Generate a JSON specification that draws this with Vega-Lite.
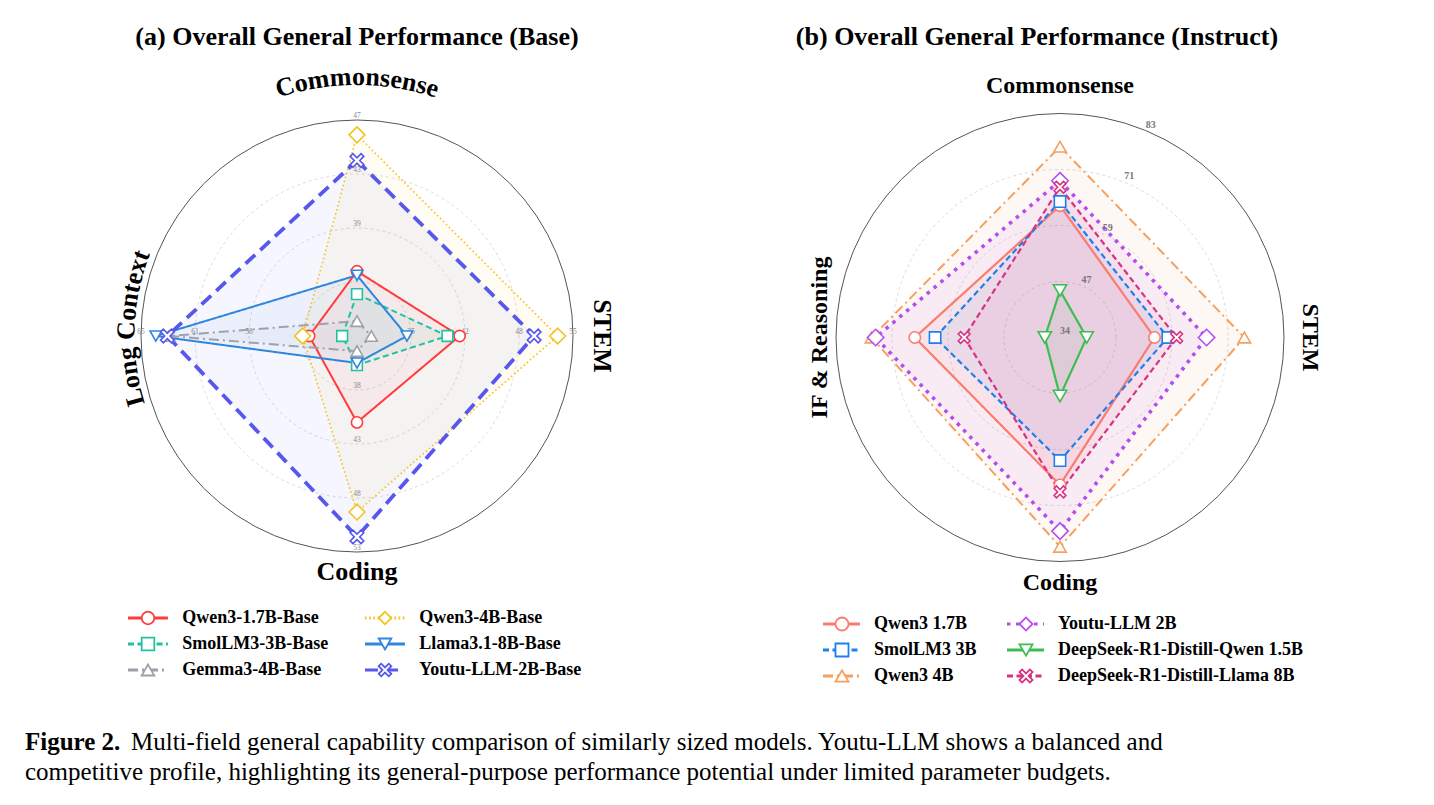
{
"$schema": "https://vega.github.io/schema/vega-lite/v6.json",
"background": "white",
"padding": {"left": 25, "top": 24, "right": 0, "bottom": 0},
"config": {"view": {"stroke": null}, "font": "Liberation Serif"},
"datasets": {
 "levels": [{"level": 0.25}, {"level": 0.5}, {"level": 0.75}, {"level": 1}],
 "dimsA": [
  {"dim": "Commonsense", "idx": 0, "min": 31, "max": 47},
  {"dim": "STEM", "idx": 1, "min": 28.33, "max": 55},
  {"dim": "Coding", "idx": 2, "min": 33, "max": 53},
  {"dim": "Long Context", "idx": 3, "min": 51.5, "max": 64.6}
 ],
 "dimsB": [
  {"dim": "Commonsense", "idx": 0, "min": 34.4, "max": 83},
  {"dim": "STEM", "idx": 1, "min": 34.4, "max": 83},
  {"dim": "Coding", "idx": 2, "min": 34.4, "max": 83},
  {"dim": "IF & Reasoning", "idx": 3, "min": 34.4, "max": 83}
 ],
 "ticksA": [
  {"dim": "Commonsense", "level": 0.5, "label": "39"},
  {"dim": "Commonsense", "level": 0.75, "label": "43"},
  {"dim": "Commonsense", "level": 1, "label": "47"},
  {"dim": "STEM", "level": 0.25, "label": "35"},
  {"dim": "STEM", "level": 0.5, "label": "42"},
  {"dim": "STEM", "level": 0.75, "label": "48"},
  {"dim": "STEM", "level": 1, "label": "55"},
  {"dim": "Coding", "level": 0.25, "label": "38"},
  {"dim": "Coding", "level": 0.5, "label": "43"},
  {"dim": "Coding", "level": 0.75, "label": "48"},
  {"dim": "Coding", "level": 1, "label": "53"},
  {"dim": "Long Context", "level": 0.5, "label": "58"},
  {"dim": "Long Context", "level": 0.75, "label": "61"},
  {"dim": "Long Context", "level": 1, "label": "65"}
 ],
 "ticksB": [
  {"level": 0, "label": "34"},
  {"level": 0.25, "label": "47"},
  {"level": 0.5, "label": "59"},
  {"level": 0.75, "label": "71"},
  {"level": 1, "label": "83"}
 ],
 "modelsA": [
  {"model": "Qwen3-1.7B-Base", "order": 0},
  {"model": "SmolLM3-3B-Base", "order": 1},
  {"model": "Gemma3-4B-Base", "order": 2},
  {"model": "Qwen3-4B-Base", "order": 3},
  {"model": "Llama3.1-8B-Base", "order": 4},
  {"model": "Youtu-LLM-2B-Base", "order": 5}
 ],
 "modelsB": [
  {"model": "Qwen3 1.7B", "order": 0},
  {"model": "SmolLM3 3B", "order": 1},
  {"model": "Qwen3 4B", "order": 2},
  {"model": "Youtu-LLM 2B", "order": 3},
  {"model": "DeepSeek-R1-Distill-Qwen 1.5B", "order": 4},
  {"model": "DeepSeek-R1-Distill-Llama 8B", "order": 5}
 ],
 "scoresA": [
  {"model": "Qwen3-1.7B-Base", "dim": "Commonsense", "score": 35.8},
  {"model": "Qwen3-1.7B-Base", "dim": "STEM", "score": 41.0},
  {"model": "Qwen3-1.7B-Base", "dim": "Coding", "score": 41.0},
  {"model": "Qwen3-1.7B-Base", "dim": "Long Context", "score": 54.4},
  {"model": "SmolLM3-3B-Base", "dim": "Commonsense", "score": 34.1},
  {"model": "SmolLM3-3B-Base", "dim": "STEM", "score": 39.5},
  {"model": "SmolLM3-3B-Base", "dim": "Coding", "score": 35.7},
  {"model": "SmolLM3-3B-Base", "dim": "Long Context", "score": 52.4},
  {"model": "Gemma3-4B-Base", "dim": "Commonsense", "score": 32.1},
  {"model": "Gemma3-4B-Base", "dim": "STEM", "score": 30.1},
  {"model": "Gemma3-4B-Base", "dim": "Coding", "score": 34.4},
  {"model": "Gemma3-4B-Base", "dim": "Long Context", "score": 62.9},
  {"model": "Qwen3-4B-Base", "dim": "Commonsense", "score": 45.9},
  {"model": "Qwen3-4B-Base", "dim": "STEM", "score": 53.1},
  {"model": "Qwen3-4B-Base", "dim": "Coding", "score": 49.3},
  {"model": "Qwen3-4B-Base", "dim": "Long Context", "score": 54.8},
  {"model": "Llama3.1-8B-Base", "dim": "Commonsense", "score": 35.5},
  {"model": "Llama3.1-8B-Base", "dim": "STEM", "score": 34.5},
  {"model": "Llama3.1-8B-Base", "dim": "Coding", "score": 35.5},
  {"model": "Llama3.1-8B-Base", "dim": "Long Context", "score": 63.7},
  {"model": "Youtu-LLM-2B-Base", "dim": "Commonsense", "score": 44.0},
  {"model": "Youtu-LLM-2B-Base", "dim": "STEM", "score": 50.2},
  {"model": "Youtu-LLM-2B-Base", "dim": "Coding", "score": 51.6},
  {"model": "Youtu-LLM-2B-Base", "dim": "Long Context", "score": 63.0}
 ],
 "scoresB": [
  {"model": "Qwen3 1.7B", "dim": "Commonsense", "score": 63.0},
  {"model": "Qwen3 1.7B", "dim": "STEM", "score": 54.9},
  {"model": "Qwen3 1.7B", "dim": "Coding", "score": 66.4},
  {"model": "Qwen3 1.7B", "dim": "IF & Reasoning", "score": 65.9},
  {"model": "SmolLM3 3B", "dim": "Commonsense", "score": 63.9},
  {"model": "SmolLM3 3B", "dim": "STEM", "score": 57.8},
  {"model": "SmolLM3 3B", "dim": "Coding", "score": 61.1},
  {"model": "SmolLM3 3B", "dim": "IF & Reasoning", "score": 61.5},
  {"model": "Qwen3 4B", "dim": "Commonsense", "score": 75.8},
  {"model": "Qwen3 4B", "dim": "STEM", "score": 74.4},
  {"model": "Qwen3 4B", "dim": "Coding", "score": 79.8},
  {"model": "Qwen3 4B", "dim": "IF & Reasoning", "score": 75.3},
  {"model": "Youtu-LLM 2B", "dim": "Commonsense", "score": 68.4},
  {"model": "Youtu-LLM 2B", "dim": "STEM", "score": 66.2},
  {"model": "Youtu-LLM 2B", "dim": "Coding", "score": 76.4},
  {"model": "Youtu-LLM 2B", "dim": "IF & Reasoning", "score": 74.4},
  {"model": "DeepSeek-R1-Distill-Qwen 1.5B", "dim": "Commonsense", "score": 44.6},
  {"model": "DeepSeek-R1-Distill-Qwen 1.5B", "dim": "STEM", "score": 40.2},
  {"model": "DeepSeek-R1-Distill-Qwen 1.5B", "dim": "Coding", "score": 47.1},
  {"model": "DeepSeek-R1-Distill-Qwen 1.5B", "dim": "IF & Reasoning", "score": 37.7},
  {"model": "DeepSeek-R1-Distill-Llama 8B", "dim": "Commonsense", "score": 67.0},
  {"model": "DeepSeek-R1-Distill-Llama 8B", "dim": "STEM", "score": 59.7},
  {"model": "DeepSeek-R1-Distill-Llama 8B", "dim": "Coding", "score": 67.9},
  {"model": "DeepSeek-R1-Distill-Llama 8B", "dim": "IF & Reasoning", "score": 55.2}
 ],
 "caption": [
  {"line": 0, "part": "bold", "text": "Figure 2."},
  {"line": 0, "part": "body0", "text": "Multi-field general capability comparison of similarly sized models.  Youtu-LLM shows a balanced and"},
  {"line": 1, "part": "body1", "text": "competitive profile, highlighting its general-purpose performance potential under limited parameter budgets."}
 ]
},
"vconcat": [
 {"hconcat": [
  {"vconcat": [
   {"title": {"text": "(a) Overall General Performance (Base)", "fontSize": 26, "fontWeight": "bold", "font": "Liberation Serif", "color": "#000000", "offset": 10, "anchor": "middle"},
    "width": 664, "height": 530,
    "resolve": {"scale": {"size": "independent"}},
    "layer": [
     {"data": {"name": "levels"}, "transform": [{"filter": "datum.level < 1"}],
      "mark": {"type": "point", "shape": "circle", "filled": false, "opacity": 1, "stroke": "#d2d2d2", "strokeWidth": 0.8, "strokeDash": [3, 3]},
      "encoding": {
       "x": {"datum": 0, "type": "quantitative", "scale": {"domain": [-1.537, 1.537], "nice": false, "zero": false}, "axis": null},
       "y": {"datum": 0, "type": "quantitative", "scale": {"domain": [-1.1759, 1.2778], "nice": false, "zero": false}, "axis": null},
       "size": {"field": "level", "type": "quantitative", "scale": {"type": "pow", "exponent": 2, "domain": [0, 1], "range": [0, 186624]}, "legend": null}}},
     {"data": {"name": "levels"}, "transform": [{"filter": "datum.level == 1"}],
      "mark": {"type": "point", "shape": "circle", "filled": false, "opacity": 1, "stroke": "#555555", "strokeWidth": 1},
      "encoding": {
       "x": {"datum": 0, "type": "quantitative", "axis": null},
       "y": {"datum": 0, "type": "quantitative", "axis": null},
       "size": {"field": "level", "type": "quantitative", "scale": {"type": "pow", "exponent": 2, "domain": [0, 1], "range": [0, 186624]}, "legend": null}}},
     {"data": {"name": "ticksA"},
      "transform": [
       {"lookup": "dim", "from": {"data": {"name": "dimsA"}, "key": "dim", "fields": ["idx"]}},
       {"calculate": "PI/2 - datum.idx*PI/2", "as": "th"},
       {"calculate": "datum.level*cos(datum.th)", "as": "px"},
       {"calculate": "datum.level*sin(datum.th)", "as": "py"}],
      "mark": {"type": "text", "align": "center", "baseline": "bottom", "fontSize": 7.5, "color": "#8a8a8a", "font": "Liberation Serif"},
      "encoding": {
       "x": {"field": "px", "type": "quantitative", "axis": null},
       "y": {"field": "py", "type": "quantitative", "axis": null},
       "text": {"field": "label"}}},
     {"data": {"name": "scoresA"},
      "transform": [
       {"lookup": "dim", "from": {"data": {"name": "dimsA"}, "key": "dim", "fields": ["idx", "min", "max"]}},
       {"calculate": "(datum.score - datum.min)/(datum.max - datum.min)", "as": "r"},
       {"calculate": "PI/2 - datum.idx*PI/2", "as": "th"},
       {"calculate": "datum.r*cos(datum.th)", "as": "px"},
       {"calculate": "datum.r*sin(datum.th)", "as": "py"}],
      "layer": [
       {"mark": {"type": "line", "interpolate": "linear-closed", "stroke": "transparent", "strokeWidth": 0, "fillOpacity": 0.05},
        "encoding": {
         "x": {"field": "px", "type": "quantitative", "axis": null},
         "y": {"field": "py", "type": "quantitative", "axis": null},
         "order": {"field": "idx"},
         "fill": {"field": "model", "type": "nominal", "scale": {"domain": ["Qwen3-1.7B-Base", "SmolLM3-3B-Base", "Gemma3-4B-Base", "Qwen3-4B-Base", "Llama3.1-8B-Base", "Youtu-LLM-2B-Base"], "range": ["#ff3b3b", "#1fc3a3", "#a0a0a8", "#f5c21b", "#2e86de", "#5757ee"]}, "legend": null}}},
       {"mark": {"type": "line", "interpolate": "linear-closed"},
        "encoding": {
         "x": {"field": "px", "type": "quantitative", "axis": null},
         "y": {"field": "py", "type": "quantitative", "axis": null},
         "order": {"field": "idx"},
         "stroke": {"field": "model", "type": "nominal", "scale": {"domain": ["Qwen3-1.7B-Base", "SmolLM3-3B-Base", "Gemma3-4B-Base", "Qwen3-4B-Base", "Llama3.1-8B-Base", "Youtu-LLM-2B-Base"], "range": ["#ff3b3b", "#1fc3a3", "#a0a0a8", "#f5c21b", "#2e86de", "#5757ee"]}, "legend": null},
         "strokeDash": {"field": "model", "type": "nominal", "scale": {"domain": ["Qwen3-1.7B-Base", "SmolLM3-3B-Base", "Gemma3-4B-Base", "Qwen3-4B-Base", "Llama3.1-8B-Base", "Youtu-LLM-2B-Base"], "range": [[1, 0], [6, 3.5], [10, 4, 2, 4], [1.6, 2.6], [1, 0], [13, 7]]}, "legend": null},
         "strokeWidth": {"field": "model", "type": "nominal", "scale": {"type": "ordinal", "domain": ["Qwen3-1.7B-Base", "SmolLM3-3B-Base", "Gemma3-4B-Base", "Qwen3-4B-Base", "Llama3.1-8B-Base", "Youtu-LLM-2B-Base"], "range": [2, 2, 2, 1.6, 2, 3.8]}, "legend": null}}},
       {"mark": {"type": "point", "filled": true, "fill": "white", "strokeWidth": 1.6, "opacity": 1},
        "encoding": {
         "x": {"field": "px", "type": "quantitative", "axis": null},
         "y": {"field": "py", "type": "quantitative", "axis": null},
         "stroke": {"field": "model", "type": "nominal", "legend": null},
         "shape": {"field": "model", "type": "nominal", "scale": {"domain": ["Qwen3-1.7B-Base", "SmolLM3-3B-Base", "Gemma3-4B-Base", "Qwen3-4B-Base", "Llama3.1-8B-Base", "Youtu-LLM-2B-Base"], "range": ["circle", "square", "triangle-up", "diamond", "triangle-down", "M-1,-0.6L-0.6,-1L0,-0.4L0.6,-1L1,-0.6L0.4,0L1,0.6L0.6,1L0,0.4L-0.6,1L-1,0.6L-0.4,0Z"]}, "legend": null},
         "size": {"field": "model", "type": "nominal", "scale": {"type": "ordinal", "domain": ["Qwen3-1.7B-Base", "SmolLM3-3B-Base", "Gemma3-4B-Base", "Qwen3-4B-Base", "Llama3.1-8B-Base", "Youtu-LLM-2B-Base"], "range": [125, 115, 145, 250, 135, 185]}, "legend": null}}}
      ]},
     {"data": {"name": "dimsA"},
      "transform": [
       {"filter": "datum.idx == 1 || datum.idx == 2"},
       {"calculate": "PI/2 - datum.idx*PI/2", "as": "th"},
       {"calculate": "datum.idx==1 ? 1.134 : 1.093", "as": "lr"},
       {"calculate": "datum.lr*cos(datum.th)", "as": "px"},
       {"calculate": "datum.lr*sin(datum.th)", "as": "py"},
       {"calculate": "datum.idx==1 ? 90 : 0", "as": "ang"}],
      "mark": {"type": "text", "fontSize": 26, "fontWeight": "bold", "font": "Liberation Serif", "align": "center", "baseline": "middle", "color": "#000000"},
      "encoding": {
       "x": {"field": "px", "type": "quantitative", "axis": null},
       "y": {"field": "py", "type": "quantitative", "axis": null},
       "text": {"field": "dim"},
       "angle": {"field": "ang", "type": "quantitative", "scale": null}}},
     {"data": {"name": "dimsA"},
      "transform": [
       {"filter": "datum.idx == 0 || datum.idx == 3"},
       {"calculate": "split(datum.dim, '')", "as": "chars"},
       {"flatten": ["chars"], "as": ["ch"]},
       {"window": [{"op": "row_number", "as": "i"}], "groupby": ["dim"]},
       {"calculate": "[0.667,0.5,0.556,0.5,0.25,0.722,0.333,0.444,0.5,0.833,0.389][indexof('Long Ctexms', datum.ch)]", "as": "w"},
       {"window": [{"op": "sum", "field": "w", "as": "cum"}], "groupby": ["dim"], "sort": [{"field": "i", "order": "ascending"}], "frame": [null, 0]},
       {"joinaggregate": [{"op": "sum", "field": "w", "as": "total"}], "groupby": ["dim"]},
       {"calculate": "datum.cum - datum.w/2 - datum.total/2", "as": "s"},
       {"calculate": "datum.idx == 0 ? 1.162 : 1.03", "as": "rb"},
       {"calculate": "datum.idx == 0 ? PI/2 : PI*178/180", "as": "th0"},
       {"calculate": "datum.th0 - datum.s*26/(datum.rb*216)", "as": "th"},
       {"calculate": "datum.rb*cos(datum.th)", "as": "px"},
       {"calculate": "datum.rb*sin(datum.th)", "as": "py"},
       {"calculate": "90 - datum.th*180/PI", "as": "ang"}],
      "mark": {"type": "text", "fontSize": 26, "fontWeight": "bold", "font": "Liberation Serif", "align": "center", "baseline": "alphabetic", "color": "#000000"},
      "encoding": {
       "x": {"field": "px", "type": "quantitative", "axis": null},
       "y": {"field": "py", "type": "quantitative", "axis": null},
       "text": {"field": "ch"},
       "angle": {"field": "ang", "type": "quantitative", "scale": null}}}
    ]},
   {"width": 664, "height": 78,
    "data": {"name": "modelsA"},
    "transform": [
     {"calculate": "floor(datum.order/3)", "as": "col"},
     {"calculate": "datum.order % 3 + 0.5", "as": "row"},
     {"calculate": "datum.col + 0.4346", "as": "x1"},
     {"calculate": "datum.col + 0.603", "as": "x2"},
     {"calculate": "datum.col + 0.519", "as": "xm"},
     {"calculate": "datum.col + 0.6636", "as": "xt"}],
    "layer": [
     {"mark": {"type": "rule"},
      "encoding": {
       "x": {"field": "x1", "type": "quantitative", "scale": {"domain": [0, 2.8017], "nice": false, "zero": false}, "axis": null},
       "x2": {"field": "x2"},
       "y": {"field": "row", "type": "quantitative", "scale": {"domain": [0, 3], "reverse": true, "nice": false}, "axis": null},
       "stroke": {"field": "model", "type": "nominal", "scale": {"domain": ["Qwen3-1.7B-Base", "SmolLM3-3B-Base", "Gemma3-4B-Base", "Qwen3-4B-Base", "Llama3.1-8B-Base", "Youtu-LLM-2B-Base"], "range": ["#ff3b3b", "#1fc3a3", "#a0a0a8", "#f5c21b", "#2e86de", "#5757ee"]}, "legend": null},
       "strokeDash": {"field": "model", "type": "nominal", "scale": {"domain": ["Qwen3-1.7B-Base", "SmolLM3-3B-Base", "Gemma3-4B-Base", "Qwen3-4B-Base", "Llama3.1-8B-Base", "Youtu-LLM-2B-Base"], "range": [[1, 0], [6, 3.5], [10, 4, 2, 4], [2.5, 4], [1, 0], [13, 7]]}, "legend": null},
       "strokeWidth": {"value": 2.8}}},
     {"mark": {"type": "point", "filled": true, "fill": "white", "strokeWidth": 1.8, "opacity": 1},
      "encoding": {
       "x": {"field": "xm", "type": "quantitative", "axis": null},
       "y": {"field": "row", "type": "quantitative", "axis": null},
       "stroke": {"field": "model", "type": "nominal", "legend": null},
       "shape": {"field": "model", "type": "nominal", "scale": {"domain": ["Qwen3-1.7B-Base", "SmolLM3-3B-Base", "Gemma3-4B-Base", "Qwen3-4B-Base", "Llama3.1-8B-Base", "Youtu-LLM-2B-Base"], "range": ["circle", "square", "triangle-up", "diamond", "triangle-down", "M-1,-0.6L-0.6,-1L0,-0.4L0.6,-1L1,-0.6L0.4,0L1,0.6L0.6,1L0,0.4L-0.6,1L-1,0.6L-0.4,0Z"]}, "legend": null},
       "size": {"value": 160}}},
     {"mark": {"type": "text", "align": "left", "baseline": "middle", "fontSize": 18, "fontWeight": "bold", "font": "Liberation Serif", "color": "#000000"},
      "encoding": {
       "x": {"field": "xt", "type": "quantitative", "axis": null},
       "y": {"field": "row", "type": "quantitative", "axis": null},
       "text": {"field": "model"}}}
    ]}
  ], "spacing": 15},
  {"vconcat": [
   {"title": {"text": "(b) Overall General Performance (Instruct)", "fontSize": 26, "fontWeight": "bold", "font": "Liberation Serif", "color": "#000000", "offset": 10, "anchor": "middle", "dx": -23},
    "width": 720, "height": 530,
    "resolve": {"scale": {"size": "independent"}},
    "layer": [
     {"data": {"name": "levels"}, "transform": [{"filter": "datum.level < 1"}],
      "mark": {"type": "point", "shape": "circle", "filled": false, "opacity": 1, "stroke": "#d2d2d2", "strokeWidth": 0.8, "strokeDash": [3, 3]},
      "encoding": {
       "x": {"datum": 0, "type": "quantitative", "scale": {"domain": [-1.6071, 1.6071], "nice": false, "zero": false}, "axis": null},
       "y": {"datum": 0, "type": "quantitative", "scale": {"domain": [-1.1272, 1.2388], "nice": false, "zero": false}, "axis": null},
       "size": {"field": "level", "type": "quantitative", "scale": {"type": "pow", "exponent": 2, "domain": [0, 1], "range": [0, 200704]}, "legend": null}}},
     {"data": {"name": "levels"}, "transform": [{"filter": "datum.level == 1"}],
      "mark": {"type": "point", "shape": "circle", "filled": false, "opacity": 1, "stroke": "#555555", "strokeWidth": 1},
      "encoding": {
       "x": {"datum": 0, "type": "quantitative", "axis": null},
       "y": {"datum": 0, "type": "quantitative", "axis": null},
       "size": {"field": "level", "type": "quantitative", "scale": {"type": "pow", "exponent": 2, "domain": [0, 1], "range": [0, 200704]}, "legend": null}}},
     {"data": {"name": "scoresB"},
      "transform": [
       {"lookup": "dim", "from": {"data": {"name": "dimsB"}, "key": "dim", "fields": ["idx", "min", "max"]}},
       {"calculate": "(datum.score - datum.min)/(datum.max - datum.min)", "as": "r"},
       {"calculate": "PI/2 - datum.idx*PI/2", "as": "th"},
       {"calculate": "datum.r*cos(datum.th)", "as": "px"},
       {"calculate": "datum.r*sin(datum.th)", "as": "py"}],
      "layer": [
       {"mark": {"type": "line", "interpolate": "linear-closed", "stroke": "transparent", "strokeWidth": 0, "fillOpacity": 0.07},
        "encoding": {
         "x": {"field": "px", "type": "quantitative", "axis": null},
         "y": {"field": "py", "type": "quantitative", "axis": null},
         "order": {"field": "idx"},
         "fill": {"field": "model", "type": "nominal", "scale": {"domain": ["Qwen3 1.7B", "SmolLM3 3B", "Qwen3 4B", "Youtu-LLM 2B", "DeepSeek-R1-Distill-Qwen 1.5B", "DeepSeek-R1-Distill-Llama 8B"], "range": ["#fa7b70", "#1d7ff0", "#f7a05e", "#b34df2", "#3cbd50", "#d63384"]}, "legend": null}}},
       {"mark": {"type": "line", "interpolate": "linear-closed"},
        "encoding": {
         "x": {"field": "px", "type": "quantitative", "axis": null},
         "y": {"field": "py", "type": "quantitative", "axis": null},
         "order": {"field": "idx"},
         "stroke": {"field": "model", "type": "nominal", "scale": {"domain": ["Qwen3 1.7B", "SmolLM3 3B", "Qwen3 4B", "Youtu-LLM 2B", "DeepSeek-R1-Distill-Qwen 1.5B", "DeepSeek-R1-Distill-Llama 8B"], "range": ["#fa7b70", "#1d7ff0", "#f7a05e", "#b34df2", "#3cbd50", "#d63384"]}, "legend": null},
         "strokeDash": {"field": "model", "type": "nominal", "scale": {"domain": ["Qwen3 1.7B", "SmolLM3 3B", "Qwen3 4B", "Youtu-LLM 2B", "DeepSeek-R1-Distill-Qwen 1.5B", "DeepSeek-R1-Distill-Llama 8B"], "range": [[1, 0], [6, 3.5], [10, 4, 2, 4], [3.5, 5.5], [1, 0], [6, 3.5]]}, "legend": null},
         "strokeWidth": {"field": "model", "type": "nominal", "scale": {"type": "ordinal", "domain": ["Qwen3 1.7B", "SmolLM3 3B", "Qwen3 4B", "Youtu-LLM 2B", "DeepSeek-R1-Distill-Qwen 1.5B", "DeepSeek-R1-Distill-Llama 8B"], "range": [2.2, 2.2, 2, 3.6, 2.2, 2.2]}, "legend": null}}},
       {"mark": {"type": "point", "filled": true, "fill": "white", "strokeWidth": 1.6, "opacity": 1},
        "encoding": {
         "x": {"field": "px", "type": "quantitative", "axis": null},
         "y": {"field": "py", "type": "quantitative", "axis": null},
         "stroke": {"field": "model", "type": "nominal", "legend": null},
         "shape": {"field": "model", "type": "nominal", "scale": {"domain": ["Qwen3 1.7B", "SmolLM3 3B", "Qwen3 4B", "Youtu-LLM 2B", "DeepSeek-R1-Distill-Qwen 1.5B", "DeepSeek-R1-Distill-Llama 8B"], "range": ["circle", "square", "triangle-up", "diamond", "triangle-down", "M-1,-0.6L-0.6,-1L0,-0.4L0.6,-1L1,-0.6L0.4,0L1,0.6L0.6,1L0,0.4L-0.6,1L-1,0.6L-0.4,0Z"]}, "legend": null},
         "size": {"field": "model", "type": "nominal", "scale": {"type": "ordinal", "domain": ["Qwen3 1.7B", "SmolLM3 3B", "Qwen3 4B", "Youtu-LLM 2B", "DeepSeek-R1-Distill-Qwen 1.5B", "DeepSeek-R1-Distill-Llama 8B"], "range": [130, 128, 155, 270, 175, 140]}, "legend": null}}}
      ]},
     {"data": {"name": "ticksB"},
      "transform": [
       {"calculate": "datum.level*sin(PI/8)", "as": "px"},
       {"calculate": "datum.level*cos(PI/8)", "as": "py"}],
      "mark": {"type": "text", "align": "left", "baseline": "bottom", "dy": -1, "fontSize": 10, "fontWeight": "bold", "color": "#777777", "font": "Liberation Serif"},
      "encoding": {
       "x": {"field": "px", "type": "quantitative", "axis": null},
       "y": {"field": "py", "type": "quantitative", "axis": null},
       "text": {"field": "label"}}},
     {"data": {"name": "dimsB"},
      "transform": [
       {"calculate": "PI/2 - datum.idx*PI/2", "as": "th"},
       {"calculate": "datum.idx==0 ? 1.123 : datum.idx==1 ? 1.116 : datum.idx==2 ? 1.096 : 1.071", "as": "lr"},
       {"calculate": "datum.lr*cos(datum.th)", "as": "px"},
       {"calculate": "datum.lr*sin(datum.th)", "as": "py"},
       {"calculate": "datum.idx==1 ? 90 : datum.idx==3 ? 270 : 0", "as": "ang"}],
      "mark": {"type": "text", "fontSize": 24, "fontWeight": "bold", "font": "Liberation Serif", "align": "center", "baseline": "middle", "color": "#000000"},
      "encoding": {
       "x": {"field": "px", "type": "quantitative", "axis": null},
       "y": {"field": "py", "type": "quantitative", "axis": null},
       "text": {"field": "dim"},
       "angle": {"field": "ang", "type": "quantitative", "scale": null}}}
    ]},
   {"width": 720, "height": 78,
    "data": {"name": "modelsB"},
    "transform": [
     {"calculate": "floor(datum.order/3)", "as": "col"},
     {"calculate": "datum.order % 3 + 0.5", "as": "row"},
     {"calculate": "datum.col + 0.6685", "as": "x1"},
     {"calculate": "datum.col + 0.8696", "as": "x2"},
     {"calculate": "datum.col + 0.7717", "as": "xm"},
     {"calculate": "datum.col + 0.9457", "as": "xt"}],
    "layer": [
     {"mark": {"type": "rule"},
      "encoding": {
       "x": {"field": "x1", "type": "quantitative", "scale": {"domain": [0, 3.913], "nice": false, "zero": false}, "axis": null},
       "x2": {"field": "x2"},
       "y": {"field": "row", "type": "quantitative", "scale": {"domain": [0, 3], "reverse": true, "nice": false}, "axis": null},
       "stroke": {"field": "model", "type": "nominal", "scale": {"domain": ["Qwen3 1.7B", "SmolLM3 3B", "Qwen3 4B", "Youtu-LLM 2B", "DeepSeek-R1-Distill-Qwen 1.5B", "DeepSeek-R1-Distill-Llama 8B"], "range": ["#fa7b70", "#1d7ff0", "#f7a05e", "#b34df2", "#3cbd50", "#d63384"]}, "legend": null},
       "strokeDash": {"field": "model", "type": "nominal", "scale": {"domain": ["Qwen3 1.7B", "SmolLM3 3B", "Qwen3 4B", "Youtu-LLM 2B", "DeepSeek-R1-Distill-Qwen 1.5B", "DeepSeek-R1-Distill-Llama 8B"], "range": [[1, 0], [6, 3.5], [10, 4, 2, 4], [3.5, 5.5], [1, 0], [6, 3.5]]}, "legend": null},
       "strokeWidth": {"value": 3.2}}},
     {"mark": {"type": "point", "filled": true, "fill": "white", "strokeWidth": 1.8, "opacity": 1},
      "encoding": {
       "x": {"field": "xm", "type": "quantitative", "axis": null},
       "y": {"field": "row", "type": "quantitative", "axis": null},
       "stroke": {"field": "model", "type": "nominal", "legend": null},
       "shape": {"field": "model", "type": "nominal", "scale": {"domain": ["Qwen3 1.7B", "SmolLM3 3B", "Qwen3 4B", "Youtu-LLM 2B", "DeepSeek-R1-Distill-Qwen 1.5B", "DeepSeek-R1-Distill-Llama 8B"], "range": ["circle", "square", "triangle-up", "diamond", "triangle-down", "M-1,-0.6L-0.6,-1L0,-0.4L0.6,-1L1,-0.6L0.4,0L1,0.6L0.6,1L0,0.4L-0.6,1L-1,0.6L-0.4,0Z"]}, "legend": null},
       "size": {"value": 170}}},
     {"mark": {"type": "text", "align": "left", "baseline": "middle", "fontSize": 18, "fontWeight": "bold", "font": "Liberation Serif", "color": "#000000"},
      "encoding": {
       "x": {"field": "xt", "type": "quantitative", "axis": null},
       "y": {"field": "row", "type": "quantitative", "axis": null},
       "text": {"field": "model"}}}
    ]}
  ], "spacing": 15}
 ], "spacing": 11,
 "resolve": {"scale": {"stroke": "independent", "fill": "independent", "shape": "independent", "strokeDash": "independent", "strokeWidth": "independent", "size": "independent"}}},
 {"width": 1395, "height": 60,
  "data": {"name": "caption"},
  "layer": [
   {"transform": [{"filter": "datum.part == 'bold'"}],
    "mark": {"type": "text", "align": "left", "baseline": "middle", "fontSize": 25, "fontWeight": "bold", "font": "Liberation Serif", "color": "#000000"},
    "encoding": {
     "x": {"datum": 0, "type": "quantitative", "scale": {"domain": [0, 1], "nice": false}, "axis": null},
     "y": {"field": "line", "type": "quantitative", "scale": {"domain": [-0.5, 1.5], "reverse": true, "nice": false, "zero": false}, "axis": null},
     "text": {"field": "text"}}},
   {"transform": [{"filter": "datum.part == 'body0'"}],
    "mark": {"type": "text", "align": "left", "baseline": "middle", "fontSize": 25, "font": "Liberation Serif", "color": "#000000", "dx": 106},
    "encoding": {
     "x": {"datum": 0, "type": "quantitative", "axis": null},
     "y": {"field": "line", "type": "quantitative", "axis": null},
     "text": {"field": "text"}}},
   {"transform": [{"filter": "datum.part == 'body1'"}],
    "mark": {"type": "text", "align": "left", "baseline": "middle", "fontSize": 25, "font": "Liberation Serif", "color": "#000000"},
    "encoding": {
     "x": {"datum": 0, "type": "quantitative", "axis": null},
     "y": {"field": "line", "type": "quantitative", "axis": null},
     "text": {"field": "text"}}}
  ]}
],
"spacing": 38
}
